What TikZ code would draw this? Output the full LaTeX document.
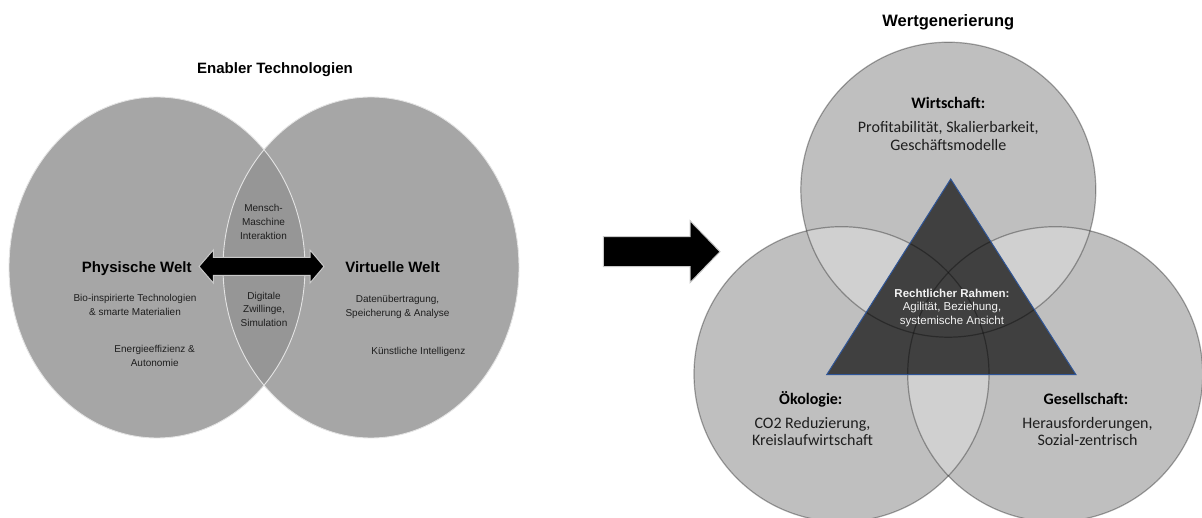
\documentclass[tikz,border=0pt]{standalone}
\usepackage{fontspec}
\setmainfont{Liberation Sans}
\newfontfamily\calfont{Carlito}
\definecolor{ellfill}{RGB}{166,166,166}
\definecolor{ellmid}{RGB}{150,150,150}
\definecolor{elledge}{RGB}{228,228,228}
\definecolor{circfill}{RGB}{191,191,191}
\definecolor{circlens}{RGB}{208,208,208}
\definecolor{trifill}{RGB}{64,64,64}
\definecolor{triedge}{RGB}{47,85,151}
\definecolor{txt}{RGB}{30,30,30}
\definecolor{arredge}{RGB}{200,200,200}
\begin{document}
\begin{tikzpicture}[x=1pt,y=-1pt,
  lbl/.style={inner sep=0pt,outer sep=0pt,text depth=0pt,anchor=center,text=txt},
  ttl/.style={lbl,font=\fontsize{15}{18}\selectfont\bfseries,text height=10.7pt,text=black},
  ttlw/.style={lbl,font=\fontsize{16.5}{19}\selectfont\bfseries,text height=11.8pt,text=black},
  welt/.style={lbl,font=\fontsize{15}{18}\selectfont\bfseries,text height=10.7pt,text=black},
  sm/.style={lbl,font=\fontsize{10}{12}\selectfont,text height=7.2pt},
  coreb/.style={lbl,font=\fontsize{11.5}{13}\selectfont\bfseries,text height=8.2pt,text=white!95!black},
  corer/.style={lbl,font=\fontsize{11.5}{13}\selectfont,text height=8.2pt,text=white!95!black},
  calb/.style={lbl,font=\calfont\fontsize{16}{18}\selectfont\bfseries,text height=10.3pt,text=black},
  calr/.style={lbl,font=\calfont\fontsize{16}{18}\selectfont,text height=10.3pt},
  ringline/.style={draw=black,draw opacity=0.33,line width=1.2pt},
  blockarrow/.style={fill=black,draw=arredge,line width=1pt,line join=miter}
]
\useasboundingbox (0,0) rectangle (1202,518);

% ---------- Enabler technologies: two overlapping ellipses ----------
\coordinate (pw) at (157,267.5);
\coordinate (vw) at (371,267.5);
\fill[ellfill] (pw) ellipse [x radius=148,y radius=170.5];
\fill[ellfill] (vw) ellipse [x radius=148,y radius=170.5];
\begin{scope}
  \clip (pw) ellipse [x radius=148,y radius=170.5];
  \fill[ellmid] (vw) ellipse [x radius=148,y radius=170.5];
\end{scope}
\draw[elledge,line width=0.9pt] (pw) ellipse [x radius=148,y radius=170.5];
\draw[elledge,line width=0.9pt] (vw) ellipse [x radius=148,y radius=170.5];

% double-headed block arrow between the two worlds
\draw[blockarrow] (199,266.5) -- (213.3,250) -- (213.3,257.5) -- (310,257.5)
  -- (310,250) -- (324,266.5) -- (310,283) -- (310,275.5) -- (213.3,275.5)
  -- (213.3,283) -- cycle;

\node[ttl] (enabler) at (275,68) {Enabler Technologien};
\node[welt] (phys) at (136.7,266.7) {Physische Welt};
\node[welt] (virt) at (392.5,266.7) {Virtuelle Welt};

\node[sm] (bio1) at (135,298) {Bio-inspirierte Technologien};
\node[sm] (bio2) at (135,312) {\& smarte Materialien};
\node[sm] (ene1) at (154.7,349) {Energieeffizienz \&};
\node[sm] (ene2) at (154.7,362.7) {Autonomie};

\node[sm] (mm1) at (263.5,208.3) {Mensch-};
\node[sm] (mm2) at (263.5,222.3) {Maschine};
\node[sm] (mm3) at (263.5,235.7) {Interaktion};
\node[sm] (dz1) at (264,296) {Digitale};
\node[sm] (dz2) at (264,309.3) {Zwillinge,};
\node[sm] (dz3) at (264,323.3) {Simulation};

\node[sm] (dat1) at (397.5,299.3) {Datenübertragung,};
\node[sm] (dat2) at (397.5,313.3) {Speicherung \& Analyse};
\node[sm] (ki) at (418.3,351) {Künstliche Intelligenz};

% ---------- arrow towards value generation ----------
\draw[blockarrow] (603.3,236.7) -- (690,236.7) -- (690,220.7) -- (720,251.7)
  -- (690,282.7) -- (690,266.7) -- (603.3,266.7) -- cycle;

% ---------- value generation: three circles ----------
\coordinate (wi) at (948.3,189.7);
\coordinate (oe) at (841.5,374.2);
\coordinate (ge) at (1055.2,374.2);
\def\rr{147.5}
\foreach \c in {wi,oe,ge}{\fill[circfill] (\c) circle [radius=\rr];}
\begin{scope}
  \clip (wi) circle [radius=\rr];
  \fill[circlens] (oe) circle [radius=\rr];
  \fill[circlens] (ge) circle [radius=\rr];
\end{scope}
\begin{scope}
  \clip (oe) circle [radius=\rr];
  \fill[circlens] (ge) circle [radius=\rr];
\end{scope}

% legal framework triangle
\coordinate (ta) at (950.7,179);
\coordinate (tb) at (826.7,374.7);
\coordinate (tc) at (1076,374.7);
\fill[trifill] (ta) -- (tb) -- (tc) -- cycle;
\foreach \c in {wi,oe,ge}{\path[ringline] (\c) circle [radius=\rr];}
\draw[triedge,line width=1pt,line join=miter] (ta) -- (tb) -- (tc) -- cycle;

\node[ttlw] (wert) at (948.3,20.7) {Wertgenerierung};

\node[calb] (wirt) at (948.3,103.3) {Wirtschaft:};
\node[calr] (wirt1) at (948.3,127.7) {Profitabilität, Skalierbarkeit,};
\node[calr] (wirt2) at (948.3,145) {Geschäftsmodelle};

\node[calb] (oeko) at (810.8,399.7) {Ökologie:};
\node[calr] (oeko1) at (812.5,423) {CO2 Reduzierung,};
\node[calr] (oeko2) at (812.5,440.7) {Kreislaufwirtschaft};

\node[calb] (ges) at (1086,399.7) {Gesellschaft:};
\node[calr] (ges1) at (1087.5,423.5) {Herausforderungen,};
\node[calr] (ges2) at (1087.5,440.7) {Sozial-zentrisch};

\node[coreb] (recht) at (952,293.3) {Rechtlicher Rahmen:};
\node[corer] (recht1) at (952,306.7) {Agilität, Beziehung,};
\node[corer] (recht2) at (952,320.7) {systemische Ansicht};
\end{tikzpicture}
\end{document}
